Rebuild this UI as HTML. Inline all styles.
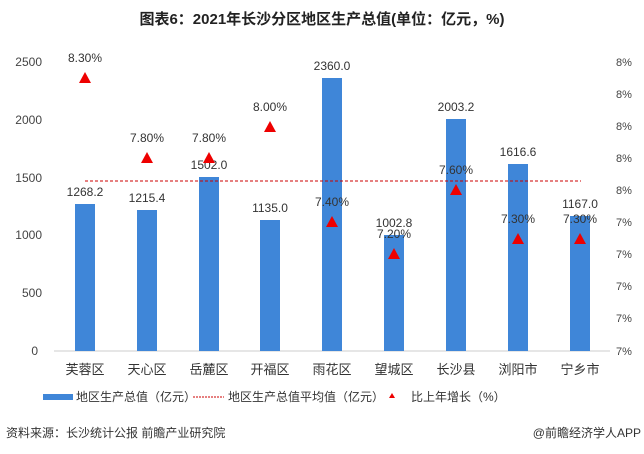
<!DOCTYPE html><html><head><meta charset="utf-8"><style>body{margin:0;background:#fff}svg{display:block}text{font-family:"Liberation Sans","Noto Sans CJK SC",sans-serif}</style></head><body>
<svg width="644" height="454" xmlns="http://www.w3.org/2000/svg">
<rect width="644" height="454" fill="#fff"/>
<text x="322" y="24" font-size="15" font-weight="bold" text-anchor="middle" fill="#222">图表6：2021年长沙分区地区生产总值(单位：亿元，%)</text>
<g font-size="12" fill="#444" text-anchor="end">
<text x="42" y="66">2500</text><text x="42" y="124">2000</text><text x="42" y="182">1500</text><text x="42" y="239">1000</text><text x="42" y="297">500</text><text x="38" y="355">0</text>
</g>
<g font-size="11" fill="#444">
<text x="616" y="66">8%</text><text x="616" y="98">8%</text><text x="616" y="130">8%</text><text x="616" y="162">8%</text><text x="616" y="194">8%</text><text x="616" y="226">7%</text><text x="616" y="258">7%</text><text x="616" y="290">7%</text><text x="616" y="322">7%</text><text x="616" y="355">7%</text>
</g>
<line x1="54" y1="351" x2="610" y2="351" stroke="#ccc"/>
<g fill="#3f86d8">
<rect x="75" y="204" width="20" height="147"/><rect x="137" y="210" width="20" height="141"/><rect x="199" y="177" width="20" height="174"/><rect x="260" y="220" width="20" height="131"/><rect x="322" y="78" width="20" height="273"/><rect x="384" y="235" width="20" height="116"/><rect x="446" y="119" width="20" height="232"/><rect x="508" y="164" width="20" height="187"/><rect x="570" y="216" width="20" height="135"/>
</g>
<line x1="85" y1="181" x2="581" y2="181" stroke="#c00" stroke-dasharray="3,2" stroke-width="1"/>
<g font-size="12" fill="#333" text-anchor="middle">
<text x="85" y="196">1268.2</text><text x="147" y="202">1215.4</text><text x="209" y="169">1502.0</text><text x="270" y="212">1135.0</text><text x="332" y="70">2360.0</text><text x="394" y="227">1002.8</text><text x="456" y="111">2003.2</text><text x="518" y="156">1616.6</text><text x="580" y="208">1167.0</text>
</g>
<g fill="#e00">
<path d="M85 72l6 11h-12z"/><path d="M147 152l6 11h-12z"/><path d="M209 152l6 11h-12z"/><path d="M270 121l6 11h-12z"/><path d="M332 216l6 11h-12z"/><path d="M394 248l6 11h-12z"/><path d="M456 184l6 11h-12z"/><path d="M518 233l6 11h-12z"/><path d="M580 233l6 11h-12z"/>
</g>
<g font-size="12" fill="#333" text-anchor="middle">
<text x="85" y="62">8.30%</text><text x="147" y="142">7.80%</text><text x="209" y="142">7.80%</text><text x="270" y="111">8.00%</text><text x="332" y="206">7.40%</text><text x="394" y="238">7.20%</text><text x="456" y="174">7.60%</text><text x="518" y="223">7.30%</text><text x="580" y="223">7.30%</text>
</g>
<g font-size="13" fill="#333" text-anchor="middle">
<text x="85" y="374">芙蓉区</text><text x="147" y="374">天心区</text><text x="209" y="374">岳麓区</text><text x="270" y="374">开福区</text><text x="332" y="374">雨花区</text><text x="394" y="374">望城区</text><text x="456" y="374">长沙县</text><text x="518" y="374">浏阳市</text><text x="580" y="374">宁乡市</text>
</g>
<rect x="43" y="394" width="30" height="6" fill="#3f86d8"/>
<text x="76" y="401" font-size="12" fill="#333">地区生产总值（亿元）</text>
<line x1="193" y1="397" x2="224" y2="397" stroke="#c00" stroke-dasharray="2,1"/>
<text x="228" y="401" font-size="12" fill="#333">地区生产总值平均值（亿元）</text>
<path d="M392 393l3 5h-6z" fill="#e00"/>
<text x="411" y="401" font-size="12" fill="#333">比上年增长（%）</text>
<text x="6" y="437" font-size="12" fill="#333">资料来源：长沙统计公报 前瞻产业研究院</text>
<text x="641" y="437" font-size="12" fill="#333" text-anchor="end">@前瞻经济学人APP</text>
</svg>
</body></html>
